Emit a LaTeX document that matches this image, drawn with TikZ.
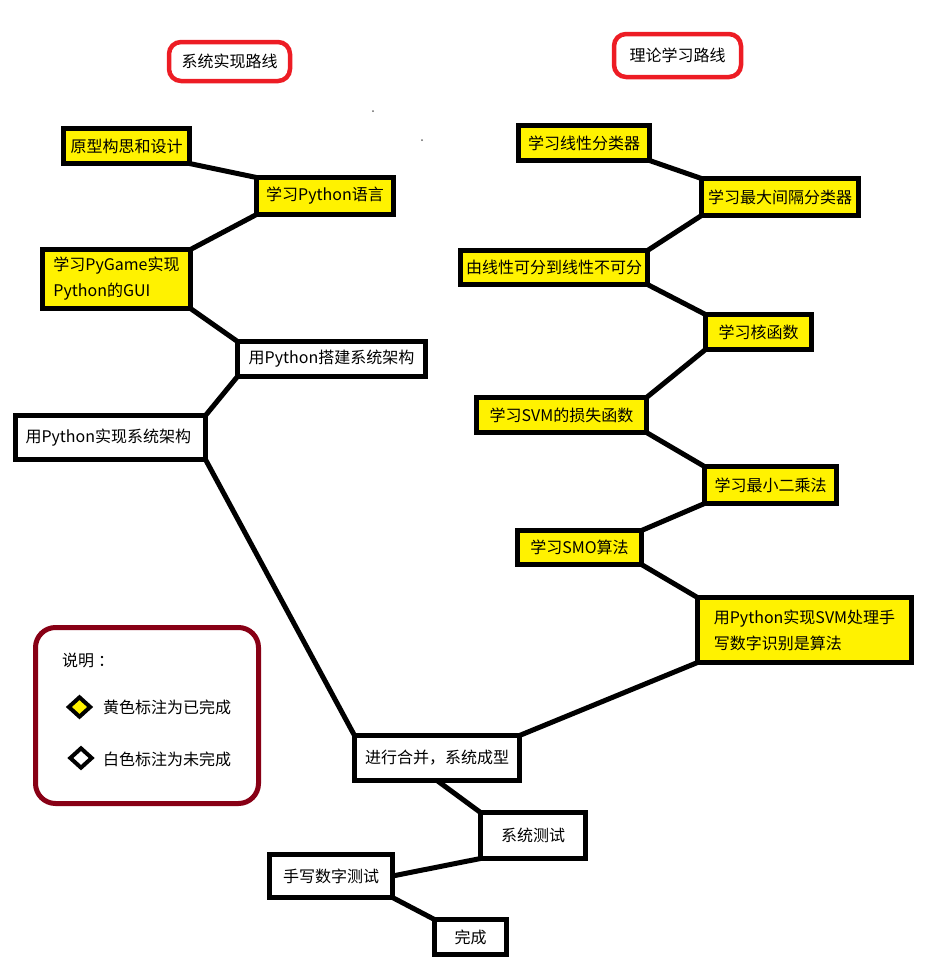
\documentclass[tikz,border=0pt]{standalone}
\usepackage{fontspec}
\setmainfont{Noto Sans CJK SC}
\usetikzlibrary{shapes.geometric,backgrounds}
\definecolor{ylw}{HTML}{FFF200}
\definecolor{tred}{HTML}{ED1C24}
\definecolor{dred}{HTML}{880015}
\tikzset{
  box/.style={draw, line width=5pt, inner sep=0pt, font=\fontsize{16}{26}\selectfont, outer sep=0pt},
  ybox/.style={box, fill=ylw},
  wbox/.style={box, fill=white},
  titlebox/.style={draw=tred, line width=4.5pt, rounded corners=12pt, inner sep=0pt, font=\fontsize{16}{20}\selectfont},
  conn/.style={line width=5pt},
  legtext/.style={anchor=west, inner sep=0pt, font=\fontsize{16}{20}\selectfont},
  legmark/.style={diamond, draw, line width=4pt, inner sep=0pt, minimum width=23pt, minimum height=21pt}
}
\begin{document}
\begin{tikzpicture}[x=1pt,y=-1pt]
\useasboundingbox (0,0) rectangle (949,970);
% titles
\node[titlebox, minimum width=121pt, minimum height=39pt] (t1) at (229.5,61.5) {系统实现路线};
\node[titlebox, minimum width=127pt, minimum height=43pt] (t2) at (677.5,55.5) {理论学习路线};
\fill[black!60] (373,111) circle (1pt);
\fill[black!60] (422,140) circle (1pt);
% left column
\node[ybox, minimum width=126pt, minimum height=35pt] (a1) at (126.5,146) {原型构思和设计};
\node[ybox, minimum width=137pt, minimum height=37pt] (a2) at (325,196) {学习Python语言};
\node[ybox, minimum width=148pt, minimum height=59pt, align=left] (a3) at (116.5,279) {学习PyGame实现\\Python的GUI};
\node[wbox, minimum width=188pt, minimum height=35pt] (a4) at (331.5,359) {用Python搭建系统架构};
\node[wbox, minimum height=44pt, inner xsep=10pt, text width=170pt, align=left] (a5) at (110.5,437.5) {用Python实现系统架构};
% right column
\node[ybox, minimum width=131pt, minimum height=35pt] (b1) at (584,143) {学习线性分类器};
\node[ybox, minimum width=157pt, minimum height=37pt] (b2) at (780,197) {学习最大间隔分类器};
\node[ybox, minimum width=187pt, minimum height=34pt] (b3) at (554,267.5) {由线性可分到线性不可分};
\node[ybox, minimum width=106pt, minimum height=35pt] (b4) at (758.5,332) {学习核函数};
\node[ybox, minimum width=170pt, minimum height=35pt] (b5) at (561.5,415) {学习SVM的损失函数};
\node[ybox, minimum width=132pt, minimum height=37pt] (b6) at (770.5,485) {学习最小二乘法};
\node[ybox, minimum width=124pt, minimum height=34pt] (b7) at (579.5,547.5) {学习SMO算法};
\node[ybox, minimum width=214pt, minimum height=65pt, align=left] (b8) at (804.5,630) {用Python实现SVM处理手\\写数字识别是算法};
% bottom
\node[wbox, minimum width=165pt, minimum height=45pt] (m) at (437,758) {进行合并，系统成型};
\node[wbox, minimum width=105pt, minimum height=46pt] (s) at (533,835.5) {系统测试};
\node[wbox, minimum width=123pt, minimum height=43pt] (h) at (331,876) {手写数字测试};
\node[wbox, minimum width=72pt, minimum height=35pt] (d) at (470.5,937) {完成};
% legend
\draw[dred, line width=5pt, rounded corners=20pt] (35.5,627.5) rectangle (258.5,803.5);
\node[legtext] (l0) at (62,660) {说明\hspace{4pt}：};
\node[legmark, fill=ylw] (lm1) at (79.5,707) {};
\node[legtext] (l1) at (103,707) {黄色标注为已完成};
\node[legmark, fill=white] (lm2) at (81,758) {};
\node[legtext] (l2) at (103,759) {白色标注为未完成};
% connectors
\begin{pgfonlayer}{background}
\draw[conn] (a1.south east) -- (a2.north west);
\draw[conn] (a2.south west) -- (a3.north east);
\draw[conn] (a3.south east) -- (a4.north west);
\draw[conn] (a4.south west) -- (a5.north east);
\draw[conn] (a5.south east) -- (m.north west);
\draw[conn] (b1.south east) -- (b2.north west);
\draw[conn] (b2.south west) -- (b3.north east);
\draw[conn] (b3.south east) -- (b4.north west);
\draw[conn] (b4.south west) -- (b5.north east);
\draw[conn] (b5.south east) -- (b6.north west);
\draw[conn] (b6.south west) -- (b7.north east);
\draw[conn] (b7.south east) -- (b8.north west);
\draw[conn] (m.north east) -- (b8.south west);
\draw[conn] (m.south) -- (s.north west);
\draw[conn] (s.south west) -- (h.east);
\draw[conn] (h.south east) -- (d.north west);
\end{pgfonlayer}
\end{tikzpicture}
\end{document}
